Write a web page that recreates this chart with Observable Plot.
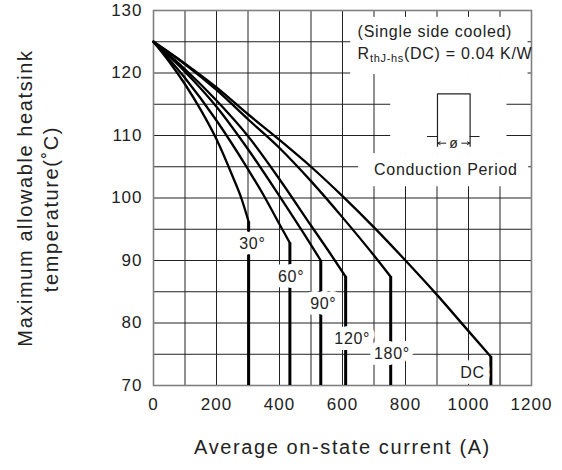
<!DOCTYPE html>
<html>
<head>
<meta charset="utf-8">
<script src="https://cdn.jsdelivr.net/npm/d3@7"></script>
<script src="https://cdn.jsdelivr.net/npm/@observablehq/plot@0.6"></script>
<style>
html, body { margin: 0; padding: 0; background: #fff; }
#chart { width: 562px; height: 470px; }
</style>
</head>
<body>
<div id="chart"></div>
<script>
// ---- data ----
const seriesNames = ["30°", "60°", "90°", "120°", "180°", "DC"];

const i30 = [0, 50, 100, 150, 200, 250, 280, 302];
const t30 = [125, 121.8, 118.2, 114.1, 109.4, 103.6, 99.8, 96.2];

const i60 = [0, 100, 200, 300, 350, 400, 433];
const t60 = [125, 119.2, 112.4, 104.6, 100.4, 95.8, 92.8];

const i90 = [0, 100, 200, 300, 400, 500, 531];
const t90 = [125, 120.2, 114.6, 107.8, 100.3, 92.5, 90.0];

const i120 = [0, 100, 200, 300, 400, 500, 560, 610];
const t120 = [125, 120.6, 115.6, 109.9, 103.0, 95.6, 91.2, 87.4];

const i180 = [0, 100, 200, 300, 400, 500, 600, 700, 753];
const t180 = [125, 121.4, 117.3, 112.6, 108.0, 102.7, 96.9, 90.8, 87.4];

const iDC = [0, 100, 200, 300, 400, 500, 600, 700, 800, 900, 1000, 1071];
const tDC = [125, 121.5, 117.7, 113.4, 109.3, 105.0, 100.3, 95.3, 90.0, 84.5, 78.7, 74.6];

const endCurrent = [302, 433, 531, 610, 753, 1071];
const bendTemp = [96.2, 92.8, 90.0, 87.4, 87.4, 74.6];

const labelText = ["30°", "60°", "90°", "120°", "180°", "DC"];
const labelCurrent = [314, 437, 539, 631, 757, 1013];
const labelTemp = [92.6, 87.4, 83.0, 77.5, 75.1, 72.1];

const xTicks = [0, 200, 400, 600, 800, 1000, 1200];
const yTicks = [70, 80, 90, 100, 110, 120, 130];
const xGrid = [100, 200, 300, 400, 500, 600, 700, 800, 900, 1000, 1100];
const yGrid = [75, 80, 85, 90, 95, 100, 105, 110, 115, 120, 125];

const xTitle = "Average on-state current (A)";
const yTitle1 = "Maximum allowable heatsink";
const yTitle2 = "temperature(˚C)";
const note1 = "(Single side cooled)";
const noteR = "RthJ-hs(DC) = 0.04 K/W";
const noteCond = "Conduction Period";

// ---- build tables ----
const curves = [[i30, t30], [i60, t60], [i90, t90], [i120, t120], [i180, t180], [iDC, tDC]];
const lineData = seriesNames.flatMap((s, k) =>
  curves[k][0].map((x, j) => ({series: s, current: x, temp: curves[k][1][j]})));
const drops = seriesNames.map((s, k) => ({series: s, current: endCurrent[k], top: bendTemp[k], bottom: 70}));
const labels = labelText.map((t, k) => ({text: t, current: labelCurrent[k], temp: labelTemp[k]}));

// annotation layout (data units)
const masks = [
  {x1: 626, x2: 1189, y1: 119.75, y2: 128.9},
  {x1: 753, x2: 1122, y1: 107.1, y2: 119.75},
  {x1: 651, x2: 1191, y1: 101.8, y2: 107.1}
];
const pulse = [
  {x: 869.7, y: 109.84}, {x: 901.5, y: 109.84}, {x: 901.5, y: 116.67},
  {x: 1005.1, y: 116.67}, {x: 1005.1, y: 109.84}, {x: 1033.7, y: 109.84}
];
const pulseEdges = [{x: 901.5}, {x: 1005.1}];
const arrows = [
  {x1: 928, x2: 902.5, y: 108.77},
  {x1: 978.5, x2: 1004.1, y: 108.77}
];

const chart = Plot.plot({
  width: 562,
  height: 470,
  marginLeft: 153,
  marginRight: 31,
  marginTop: 10,
  marginBottom: 85,
  style: {
    fontFamily: "'Liberation Sans', Arial, sans-serif",
    fontSize: "17px",
    color: "#222",
    background: "white"
  },
  x: {domain: [0, 1200], ticks: xTicks, tickFormat: d => String(d), tickSize: 0, tickPadding: 12, label: null},
  y: {domain: [70, 130], ticks: yTicks, tickFormat: d => String(d), tickSize: 0, tickPadding: 11, label: null},
  marks: [
    Plot.ruleX(xGrid, {stroke: "#222", strokeWidth: 1}),
    Plot.ruleY(yGrid, {stroke: "#222", strokeWidth: 1}),
    Plot.rect(masks, {x1: "x1", x2: "x2", y1: "y1", y2: "y2", fill: "white"}),
    Plot.frame({stroke: "#808080", strokeWidth: 1.6}),
    Plot.line(lineData, {x: "current", y: "temp", z: "series", curve: "monotone-x",
      stroke: "#000", strokeWidth: 2.3}),
    Plot.ruleX(drops, {x: "current", y1: "top", y2: "bottom", stroke: "#000", strokeWidth: 3}),
    Plot.text(labels, {x: "current", y: "temp", text: "text", fontSize: 16, fill: "#222",
      stroke: "white", strokeWidth: 12, strokeLinejoin: "round", paintOrder: "stroke"}),
    // conduction period sketch
    Plot.line(pulse, {x: "x", y: "y", stroke: "#222", strokeWidth: 1.2}),
    Plot.ruleX(pulseEdges, {x: "x", y1: 108.13, y2: 109.84, stroke: "#222", strokeWidth: 1.2}),
    Plot.arrow(arrows, {x1: "x1", x2: "x2", y1: "y", y2: "y", stroke: "#222", strokeWidth: 1, headLength: 5}),
    Plot.text(["ø"], {x: 953.3, y: 108.77, fontSize: 14, fill: "#222"}),
    Plot.text([note1], {x: 648, y: 126.6, textAnchor: "start", fontSize: 16, fill: "#222"}),
    Plot.text([noteR], {x: 648, y: 123.1, textAnchor: "start", fontSize: 16, fill: "#222"}),
    Plot.text([noteCond], {x: 928, y: 104.5, fontSize: 16, fill: "#222"}),
    // axis titles
    Plot.text([xTitle], {frameAnchor: "bottom", dy: 68, fontSize: 20, fill: "#222"}),
    Plot.text([yTitle1], {frameAnchor: "left", textAnchor: "middle", rotate: -90, dx: -128, fontSize: 20, fill: "#222"}),
    Plot.text([yTitle2], {frameAnchor: "left", textAnchor: "middle", rotate: -90, dx: -102, dy: 11, fontSize: 20, fill: "#222"})
  ]
});

document.getElementById("chart").appendChild(chart);

// subscript for R_thJ-hs and letter spacing
d3.select(chart).selectAll("text").each(function () {
  if (this.textContent === noteR) {
    const t = d3.select(this);
    t.text(null);
    t.append("tspan").text("R");
    t.append("tspan").attr("font-size", 11).attr("dy", 3.5).text("thJ-hs");
    t.append("tspan").attr("dy", -3.5).text("(DC) = 0.04 K/W");
  }
});
d3.select(chart).selectAll("text").each(function () {
  const fs = parseFloat(getComputedStyle(this).fontSize);
  this.style.letterSpacing = fs >= 19 ? "1.6px" : fs >= 17 ? "1px" : "0.7px";
});
</script>
</body>
</html>
